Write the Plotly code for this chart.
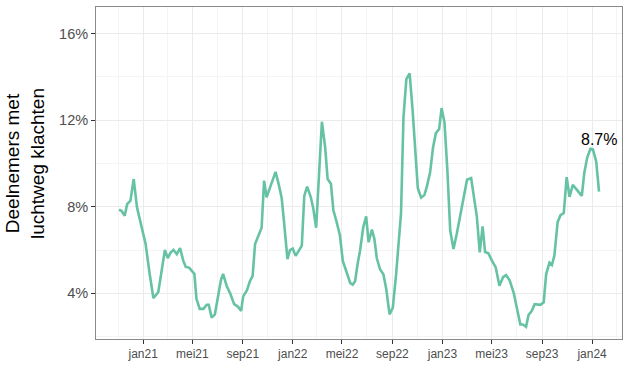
import pandas as pd
import plotly.graph_objects as go

# days since 2021-01-01 for each observation
day_offsets = [-59, -53, -45, -39, -31, -23, -15, -4, 6, 16, 25, 37, 45, 53, 60, 67, 74, 82, 90, 98,
               104, 112, 125, 130, 138, 147, 155, 160, 167, 175, 182, 190, 195, 204, 212, 222, 231, 239,
               244, 253, 261, 267, 273, 281, 289, 295, 301, 309, 317, 323, 331, 338, 344, 352, 358, 365,
               372, 380, 387, 393, 400, 409, 415, 422, 429, 436, 444, 450, 458, 464, 472, 480, 487, 497,
               505, 511, 517, 523, 529, 537, 544, 550, 558, 564, 570, 578, 586, 593, 601, 609, 617, 629,
               635, 642, 650, 657, 664, 670, 678, 686, 692, 700, 707, 714, 722, 728, 735, 742, 749, 757,
               765, 773, 781, 790, 800, 808, 814, 821, 828, 834, 842, 851, 860, 869, 878, 885, 894, 904,
               912, 920, 926, 934, 940, 948, 955, 962, 969, 977, 983, 991, 997, 1003, 1011, 1018, 1026,
               1033, 1040, 1048, 1056, 1062, 1070, 1076, 1083, 1091, 1097, 1105, 1112]

pct_klachten = [7.87, 7.81, 7.59, 8.12, 8.28, 9.28, 7.97, 7.03, 6.28, 4.88, 3.78, 4.06, 5.03, 6.0, 5.63,
                5.89, 6.01, 5.81, 6.09, 5.5, 5.22, 5.19, 4.9, 3.75, 3.28, 3.28, 3.47, 3.47, 2.88, 3.03,
                3.78, 4.64, 4.9, 4.33, 4.01, 3.5, 3.39, 3.19, 3.86, 4.13, 4.59, 4.8, 6.28, 6.67, 7.03,
                9.21, 8.44, 8.86, 9.33, 9.61, 9.01, 8.39, 7.22, 5.58, 6.0, 6.07, 5.73, 6.0, 6.2, 8.5,
                8.93, 8.44, 7.92, 7.03, 9.4, 11.93, 10.73, 9.28, 9.06, 7.84, 7.29, 6.67, 5.5, 4.88, 4.48,
                4.4, 4.56, 5.34, 5.97, 7.06, 7.56, 6.36, 6.94, 6.52, 5.62, 5.1, 4.88, 4.2, 3.03, 3.34,
                4.88, 7.69, 12.14, 13.9, 14.16, 12.52, 10.5, 8.86, 8.42, 8.54, 8.93, 9.59, 10.73, 11.4,
                11.59, 12.56, 11.9, 9.71, 6.9, 6.05, 6.75, 7.53, 8.31, 9.25, 9.33, 8.31, 7.53, 5.89,
                7.09, 5.91, 5.85, 5.5, 5.2, 4.35, 4.75, 4.84, 4.6, 4.01, 3.24, 2.56, 2.56, 2.45, 3.0,
                3.19, 3.5, 3.47, 3.47, 3.59, 4.88, 5.42, 5.31, 5.73, 7.29, 7.61, 7.71, 9.37, 8.46, 9.01,
                8.81, 8.7, 8.5, 9.56, 10.26, 10.68, 10.65, 10.1, 8.7]

x_tick_dates = ["2021-01-01", "2021-05-01", "2021-09-01", "2022-01-01", "2022-05-01", "2022-09-01",
                "2023-01-01", "2023-05-01", "2023-09-01", "2024-01-01"]
x_tick_labels = ["jan21", "mei21", "sep21", "jan22", "mei22", "sep22", "jan23", "mei23", "sep23", "jan24"]
x_minor_dates = ["2020-11-01", "2021-03-01", "2021-07-01", "2021-11-01", "2022-03-01", "2022-07-01",
                 "2022-11-01", "2023-03-01", "2023-07-01", "2023-11-01", "2024-03-01"]
y_tick_vals = [4, 8, 12, 16]
y_tick_labels = ["4%", "8%", "12%", "16%"]
y_minor_vals = [2, 6, 10, 14]

dates = pd.Timestamp("2021-01-01") + pd.to_timedelta(day_offsets, unit="D")

FONT = "Liberation Sans, Arial, Helvetica, sans-serif"

fig = go.Figure()
fig.add_trace(go.Scatter(x=dates, y=pct_klachten, mode="lines",
                         line=dict(color="#66C2A5", width=2.6), hoverinfo="skip", showlegend=False))

fig.add_annotation(x=dates[-1], y=pct_klachten[-1], text=f"{pct_klachten[-1]:.1f}%",
                   showarrow=False, yshift=52, xshift=0,
                   font=dict(family=FONT, size=16, color="#000000"))

fig.add_annotation(xref="paper", yref="paper", x=-0.135, y=0.53,
                   text="Deelnemers met<br>luchtweg klachten", textangle=-90, showarrow=False,
                   xanchor="center", yanchor="middle",
                   font=dict(family=FONT, size=19, color="#000000"))

fig.update_layout(
    width=629, height=389,
    margin=dict(l=96, r=7, t=7, b=50, autoexpand=False),
    paper_bgcolor="white", plot_bgcolor="white",
    font=dict(family=FONT),
    hovermode=False,
    xaxis=dict(
        type="date", range=["2020-09-08", "2024-03-14"], automargin=False,
        tickmode="array", tickvals=x_tick_dates, ticktext=x_tick_labels,
        tickfont=dict(family=FONT, size=12, color="#4D4D4D"),
        ticks="outside", ticklen=4, tickcolor="#333333", tickwidth=1,
        showgrid=True, gridcolor="#EBEBEB", gridwidth=1,
        minor=dict(tickmode="array", tickvals=x_minor_dates, showgrid=True,
                   gridcolor="#F4F4F4", gridwidth=0.6, ticks=""),
        showline=True, mirror=True, linecolor="#8A8A8A", linewidth=1,
        zeroline=False,
    ),
    yaxis=dict(
        range=[1.89, 17.23], automargin=False,
        tickmode="array", tickvals=y_tick_vals, ticktext=y_tick_labels,
        tickfont=dict(family=FONT, size=14.5, color="#4D4D4D"),
        ticks="outside", ticklen=4, tickcolor="#333333", tickwidth=1,
        showgrid=True, gridcolor="#EBEBEB", gridwidth=1,
        minor=dict(tickmode="array", tickvals=y_minor_vals, showgrid=True,
                   gridcolor="#F4F4F4", gridwidth=0.6, ticks=""),
        showline=True, mirror=True, linecolor="#8A8A8A", linewidth=1,
        zeroline=False,
    ),
)

fig.write_html("out.html", config={"displayModeBar": False},
               post_script="document.body.style.margin='0px';")
